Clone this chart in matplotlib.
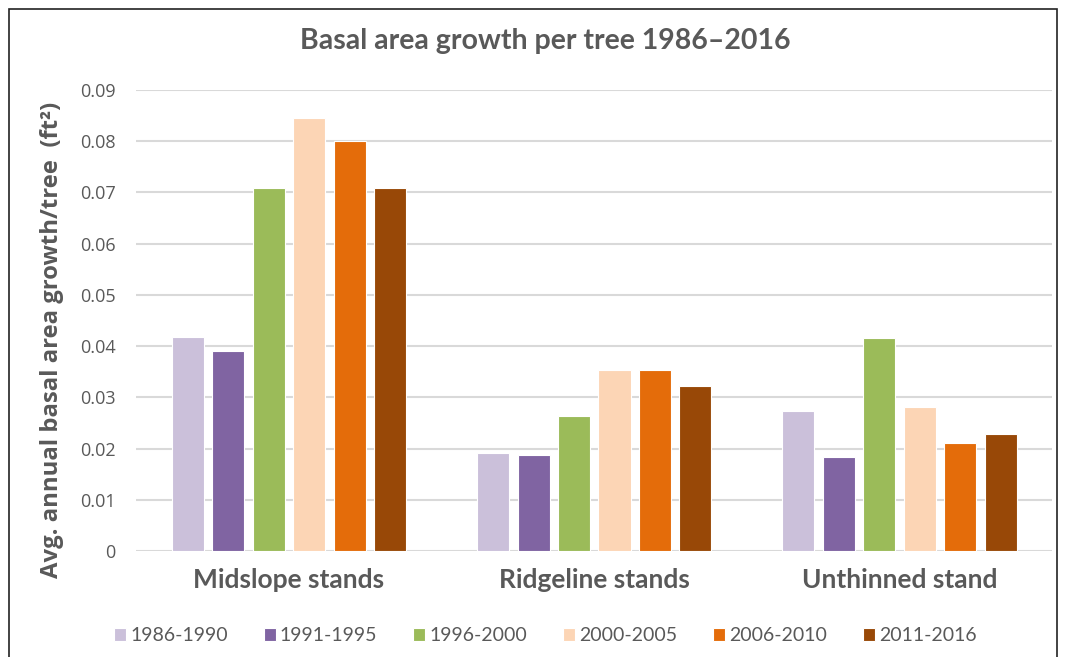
import matplotlib.pyplot as plt
import numpy as np

# data
stands = ['Midslope stands', 'Ridgeline stands', 'Unthinned stand']
periods = ['1986-1990', '1991-1995', '1996-2000', '2000-2005', '2006-2010', '2011-2016']
growth_1986 = [0.0417, 0.0192, 0.0273]
growth_1991 = [0.0390, 0.0188, 0.0183]
growth_1996 = [0.0708, 0.0264, 0.0415]
growth_2000 = [0.0846, 0.0353, 0.0282]
growth_2006 = [0.0801, 0.0353, 0.0210]
growth_2011 = [0.0708, 0.0322, 0.0228]
yticks = [0, 0.01, 0.02, 0.03, 0.04, 0.05, 0.06, 0.07, 0.08, 0.09]
ytick_labels = ['0', '0.01', '0.02', '0.03', '0.04', '0.05', '0.06', '0.07', '0.08', '0.09']

series = [growth_1986, growth_1991, growth_1996, growth_2000, growth_2006, growth_2011]
colors = ['#CBC0DA', '#8064A2', '#9BBB59', '#FCD5B5', '#E46C0A', '#984807']

narrow = ['Lato', 'DejaVu Sans']
plain = ['Open Sans', 'DejaVu Sans']
gray = '#595959'

fig = plt.figure(figsize=(10.65, 6.57), dpi=100)
ax = fig.add_axes([0.128, 0.1613, 0.86, 0.7017])

x = np.arange(len(stands))
pitch = 0.1325
width = 0.105
for i, vals in enumerate(series):
    offs = (i - 2.5) * pitch
    ax.bar(x + offs, vals, width, color=colors[i], edgecolor='white',
           linewidth=0.8, label=periods[i], zorder=3)

ax.set_xlim(-0.5, 2.5)
ax.set_ylim(0, 0.09)
ax.set_yticks(yticks)
ax.set_yticklabels(ytick_labels, family=plain, fontsize=13, color=gray)
ax.set_xticks(x)
ax.set_xticklabels(stands, family=narrow, fontsize=19, color=gray, fontweight='bold')
ax.tick_params(length=0)
ax.tick_params(axis='y', pad=15)
ax.tick_params(axis='x', pad=12)
ax.grid(axis='y', color='#D9D9D9', linewidth=1.5, zorder=0)
for s in ax.spines.values():
    s.set_visible(False)

fig.text(0.049, 0.482, 'Avg. annual basal area growth/tree  (ft²)', rotation=90,
         ha='center', va='center', family=plain, fontsize=17.2,
         fontweight='bold', color=gray)
fig.text(0.512, 0.938, 'Basal area growth per tree 1986–2016', ha='center',
         va='center', family=narrow, fontsize=20.5, fontweight='bold', color=gray)

leg = fig.legend(loc='center', bbox_to_anchor=(0.512, 0.032), ncol=6, frameon=False,
                 handlelength=0.62, handleheight=0.62, handletextpad=0.2,
                 columnspacing=1.85, prop={'family': narrow, 'size': 14})
for t in leg.get_texts():
    t.set_color(gray)

# outer frame
fig.add_artist(plt.Rectangle((9 / 1065, -0.01), 1048 / 1065, 1 - 9 / 657 + 0.01,
                             transform=fig.transFigure, fill=False,
                             edgecolor='#222222', linewidth=1.2))

fig.savefig('out.png', dpi=100)
